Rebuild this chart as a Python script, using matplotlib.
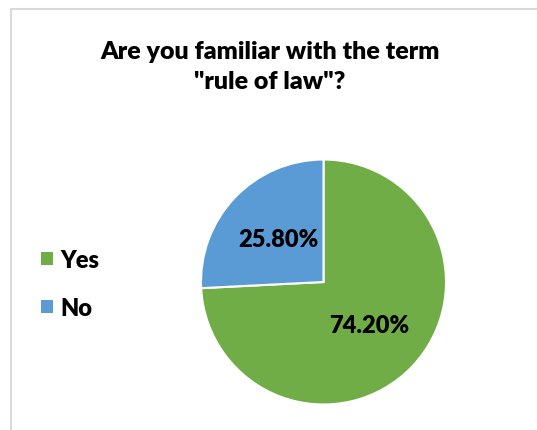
import matplotlib
matplotlib.use("Agg")
import matplotlib.pyplot as plt
from matplotlib.patches import Rectangle

# Data
labels = ["Yes", "No"]
shares = [74.2, 25.8]
colors = ["#70AD47", "#5B9BD5"]
title = 'Are you familiar with the term\n"rule of law"?'

plt.rcParams['font.family'] = ['Lato', 'DejaVu Sans']

W, H = 537, 431
fig = plt.figure(figsize=(W / 100, H / 100), dpi=100)

# chart frame (cropped on the right and bottom)
fig.patches.append(Rectangle((11 / W, -0.1), 1.2, (H - 10) / H + 0.1,
                             transform=fig.transFigure, fill=False,
                             edgecolor="#d9d9d9", linewidth=1.5, zorder=0))

# pie axes: center (323.5, 283), radius 122.5 px
cx, cy, r = 323.5, 283, 122.5
ax = fig.add_axes([(cx - r) / W, (H - cy - r) / H, 2 * r / W, 2 * r / H])
wedges, texts, autotexts = ax.pie(
    shares, colors=colors, startangle=90, counterclock=False,
    autopct='%.2f%%', pctdistance=0.51,
    wedgeprops=dict(edgecolor="white", linewidth=1.5),
    textprops=dict(fontsize=17, fontweight="heavy", color="black"))
ax.set_xlim(-1, 1)
ax.set_ylim(-1, 1)

fig.text(270 / W, 1 - 67 / H, title, ha="center", va="center",
         fontsize=18, fontweight="heavy", linespacing=1.4)

leg = fig.legend(wedges, labels, loc="center left",
                 bbox_to_anchor=(20 / W, 1 - 285 / H), frameon=False,
                 prop=dict(size=17, weight="heavy"),
                 handlelength=0.5, handleheight=0.5, handletextpad=0.3,
                 labelspacing=1.1)
for hnd in leg.legend_handles:
    hnd.set_edgecolor("none")

fig.savefig("out.png", dpi=100)
